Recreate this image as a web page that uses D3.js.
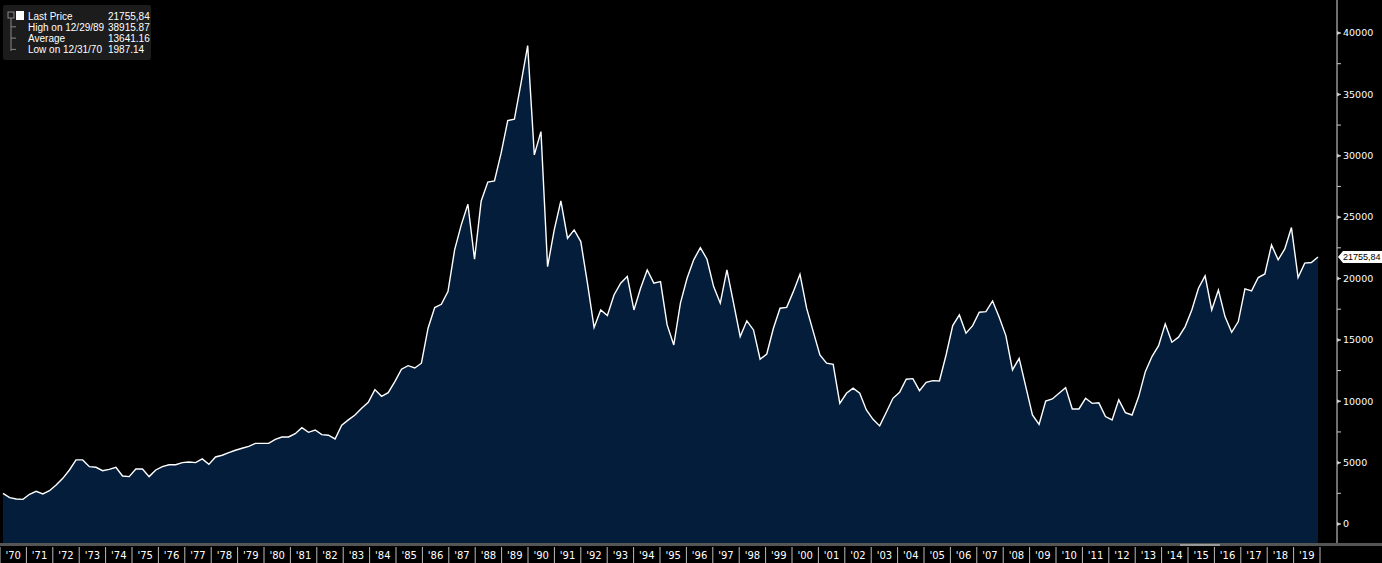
<!DOCTYPE html>
<html><head><meta charset="utf-8">
<script src="https://cdn.jsdelivr.net/npm/d3@7"></script>
<style>body{margin:0;background:#000;overflow:hidden}svg{display:block;font-family:"DejaVu Sans",sans-serif}</style>
</head><body><svg id="c" width="1382" height="563"></svg>
<script>
// Quarterly index values, 1970 Q1 .. 2019 Q3 (last price)
const values = [
2500,2150,2040,2010,2420,2660,2450,2710,3180,3720,4400,5220,5220,4670,4620,4340,
4450,4620,3910,3860,4480,4480,3860,4400,4670,4830,4830,5000,5050,5000,5300,4860,
5460,5600,5810,6010,6170,6330,6570,6570,6570,6900,7090,7090,7360,7850,7470,7660,
7280,7230,6930,8040,8480,8880,9430,9910,10950,10400,10700,11600,12610,12900,12710,13100,
15950,17630,17900,18930,22330,24370,26050,21570,26320,27850,27950,30210,32870,32980,35920,38980,
30070,31970,20970,23960,26320,23280,23960,23010,19620,16000,17440,16980,18660,19620,20160,17440,
19210,20700,19620,19750,16220,14590,17990,20020,21520,22520,21570,19340,17990,20700,17990,15270,
16550,15810,13420,13850,15950,17580,17650,18930,20350,17580,15670,13770,13100,13010,9830,10650,
11060,10650,9290,8530,7990,9100,10240,10730,11790,11840,10860,11540,11680,11650,13770,16160,
17030,15540,16160,17250,17300,18170,16840,15350,12550,13500,11190,8880,8120,10020,10190,10650,
11110,9370,9370,10240,9830,9870,8750,8480,10110,9070,8880,10380,12410,13640,14530,16300,
14810,15220,16080,17440,19210,20210,17440,19070,16900,15620,16490,19150,18990,20080,20370,22740,
21520,22410,24150,20080,21250,21300,21755.84];
const yearLabels = d3.range(1970,2020).map(y=>"'"+String(y).slice(2));
const yTicks = [0,5000,10000,15000,20000,25000,30000,35000,40000];
const legendRows = [["Last Price","21755,84"],["High on 12/29/89","38915.87"],["Average","13641.16"],["Low on 12/31/70","1987.14"]];
const lastLabel = "21755,84";

const svg = d3.select("#c");
const x = d3.scaleLinear().domain([0, values.length-1]).range([3,1318]);
const y = d3.scaleLinear().domain([0,40000]).range([524,33]);
const xy = d3.scaleLinear().domain([1970,2020]).range([0,1320]);

svg.append("path").datum(values)
  .attr("d", d3.area().x((d,i)=>x(i)).y0(545).y1(d=>y(d)))
  .attr("fill","#031d3a");
svg.append("path").datum(values)
  .attr("d", d3.line().x((d,i)=>x(i)).y(d=>y(d)))
  .attr("fill","none").attr("stroke","#fff").attr("stroke-width",1.4);

// right axis
svg.append("line").attr("x1",1337).attr("x2",1337).attr("y1",0).attr("y2",545).attr("stroke","#ddd");
const minor = d3.range(2500,42500,5000);
svg.selectAll(".mn").data(minor).enter().append("line")
  .attr("x1",1337).attr("x2",1341).attr("y1",d=>y(d)).attr("y2",d=>y(d)).attr("stroke","#ccc");
const yt = svg.selectAll(".yt").data(yTicks).enter().append("g").attr("transform",d=>`translate(1337,${y(d)})`);
yt.append("path").attr("d","M0,-2L4,0L0,2Z").attr("fill","#ccc");
yt.append("line").attr("x1",0).attr("x2",4).attr("stroke","#ccc");
yt.append("text").attr("x",6).attr("dy","0.35em").attr("fill","#fff").attr("font-size",9.5).text(d=>d);

// last price tag
const ly = y(values[values.length-1]);
const tg = svg.append("g").attr("transform",`translate(1338,${ly})`);
tg.append("path").attr("d","M0,0L5,-6H44V6H5Z").attr("fill","#fff");
tg.append("text").attr("x",5).attr("dy","0.35em").attr("font-size",9).attr("font-family","Liberation Sans").attr("fill","#000").text(lastLabel);

// bottom bar
svg.append("rect").attr("x",0).attr("y",543).attr("width",1382).attr("height",3).attr("fill","#555");
svg.append("rect").attr("x",1180).attr("y",544).attr("width",40).attr("height",2).attr("fill","#999");
const yrs = d3.range(1970,2020);
svg.selectAll(".sep").data(d3.range(1970,2021)).enter().append("line")
  .attr("x1",d=>xy(d)).attr("x2",d=>xy(d)).attr("y1",547).attr("y2",563).attr("stroke","#bbb");
svg.selectAll(".yl").data(yrs).enter().append("text")
  .attr("x",d=>xy(d)+13.2).attr("y",559).attr("text-anchor","middle")
  .attr("fill","#fff").attr("font-size",10).text((d,i)=>yearLabels[i]);

// legend
const lg = svg.append("g").attr("font-family","Liberation Sans");
lg.append("rect").attr("x",3).attr("y",5).attr("width",148).attr("height",55).attr("rx",2).attr("fill","#1c1c1c");
lg.append("rect").attr("x",16).attr("y",11).attr("width",8).attr("height",9).attr("fill","#fff");
lg.append("line").attr("x1",11).attr("x2",11).attr("y1",18).attr("y2",51).attr("stroke","#888");
lg.append("rect").attr("x",8).attr("y",12).attr("width",6).attr("height",6).attr("fill","none").attr("stroke","#888");
legendRows.forEach((r,i)=>{
  const yy = 19.5 + i*11.3;
  lg.append("text").attr("x",28).attr("y",yy).attr("fill","#fff").attr("font-size",10).text(r[0]);
  lg.append("text").attr("x",108).attr("y",yy).attr("fill","#fff").attr("font-size",10).text(r[1]);
  if(i>0) lg.append("line").attr("x1",11).attr("x2",16).attr("y1",yy-4).attr("y2",yy-4).attr("stroke","#888");
});
</script></body></html>
